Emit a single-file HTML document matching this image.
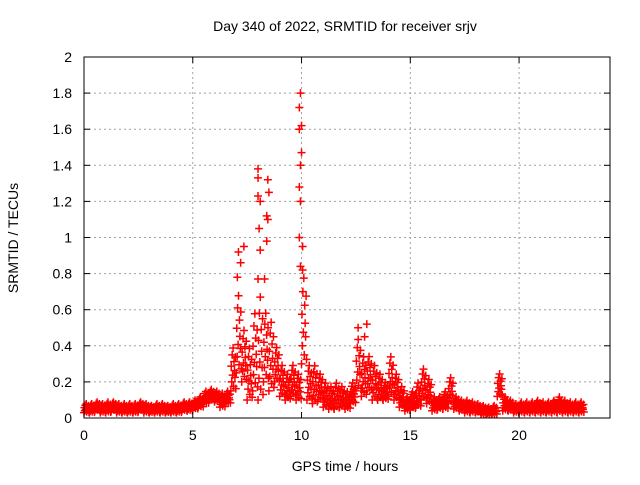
<!DOCTYPE html>
<html><head><meta charset="utf-8"><style>
body{margin:0;background:#fff}
svg text{font-family:"Liberation Sans",sans-serif;font-size:14px;fill:#000}
</style></head><body>
<svg id="chart" width="640" height="480">
<text x="345" y="31" text-anchor="middle">Day 340 of 2022, SRMTID for receiver srjv</text>
<text x="345" y="471" text-anchor="middle">GPS time / hours</text>
<text transform="translate(18,238) rotate(-90)" text-anchor="middle">SRMTID / TECUs</text>
<g id="grid"></g><g id="marks"></g><g id="axes"></g>
</svg>
<script>
const xTicks=[0,5,10,15,20];
const yTicks=[0,0.2,0.4,0.6,0.8,1,1.2,1.4,1.6,1.8,2];
const yTickLabels=["0","0.2","0.4","0.6","0.8","1","1.2","1.4","1.6","1.8","2"];
const stepHours=0.25;
const lowValues=[0.03,0.03,0.04,0.03,0.03,0.04,0.03,0.03,0.03,0.03,0.04,0.03,0.03,0.03,0.03,0.03,0.03,0.03,0.04,0.04,0.05,0.06,0.08,0.1,0.09,0.06,0.08,0.15,0.25,0.2,0.1,0.15,0.1,0.2,0.15,0.2,0.12,0.1,0.12,0.1,0.3,0.1,0.08,0.1,0.06,0.05,0.05,0.06,0.05,0.08,0.15,0.12,0.15,0.1,0.1,0.1,0.12,0.1,0.06,0.04,0.05,0.06,0.1,0.08,0.04,0.05,0.05,0.08,0.05,0.04,0.03,0.03,0.03,0.02,0.02,0.02,0.12,0.04,0.04,0.03,0.03,0.03,0.03,0.03,0.03,0.03,0.03,0.03,0.03,0.03,0.03,0.03];
const highValues=[0.08,0.08,0.09,0.08,0.09,0.09,0.08,0.08,0.08,0.08,0.09,0.08,0.07,0.08,0.08,0.07,0.08,0.08,0.09,0.09,0.1,0.12,0.15,0.16,0.15,0.14,0.15,0.4,0.7,0.5,0.4,0.6,0.7,0.6,0.55,0.4,0.3,0.25,0.3,0.25,0.8,0.3,0.3,0.25,0.2,0.18,0.2,0.18,0.15,0.2,0.45,0.35,0.35,0.3,0.25,0.2,0.35,0.25,0.18,0.12,0.15,0.2,0.28,0.22,0.12,0.12,0.15,0.23,0.12,0.1,0.1,0.09,0.08,0.07,0.06,0.07,0.25,0.12,0.1,0.08,0.09,0.09,0.09,0.1,0.09,0.09,0.1,0.12,0.1,0.09,0.09,0.09];
const peakTimes=[7.1,7.2,7.35,7.05,8.0,8.0,8.1,8.0,8.05,8.1,8.45,8.5,8.4,8.45,8.4,9.95,9.9,10.0,9.9,10.0,9.95,9.9,9.95,9.9,10.05,9.95,10.05,8.0,8.3,12.6,13.0,12.9];
const peakValues=[0.92,0.86,0.95,0.78,1.38,1.33,1.2,1.23,1.05,0.93,1.32,1.25,1.12,1.1,0.98,1.8,1.72,1.62,1.6,1.47,1.4,1.28,1.2,1.0,0.95,0.84,0.82,0.77,0.77,0.5,0.52,0.45];
const L=84,R=610,T=57,B=418,XMAX=24.18,YMAX=2;
const xs=v=>L+v/XMAX*(R-L), ys=v=>B-v/YMAX*(B-T);
const NS="http://www.w3.org/2000/svg";
function mk(tag,attrs,parent){const e=document.createElementNS(NS,tag);for(const k in attrs)e.setAttribute(k,attrs[k]);parent.appendChild(e);return e;}
const grid=document.getElementById('grid'),axes=document.getElementById('axes'),marks=document.getElementById('marks');
xTicks.forEach((t,i)=>{const x=xs(t);
 if(t>0){const g=mk('line',{x1:x,x2:x,y1:T,y2:B,stroke:'#a0a0a0','stroke-dasharray':'2,3'},grid);}
 mk('line',{x1:x,x2:x,y1:B,y2:B-6,stroke:'#000'},axes);mk('line',{x1:x,x2:x,y1:T,y2:T+6,stroke:'#000'},axes);
 const tx=mk('text',{x:x,y:B+22,'text-anchor':'middle'},axes);tx.textContent=t;
 });
yTicks.forEach((t,i)=>{const y=ys(t);
 if(t>0&&t<YMAX){const g=mk('line',{x1:L,x2:R,y1:y,y2:y,stroke:'#a0a0a0','stroke-dasharray':'2,3'},grid);}
 mk('line',{x1:L,x2:L+6,y1:y,y2:y,stroke:'#000'},axes);mk('line',{x1:R,x2:R-6,y1:y,y2:y,stroke:'#000'},axes);
 const tx=mk('text',{x:L-12,y:y+5,'text-anchor':'end'},axes);tx.textContent=yTickLabels[i];
 });
const fr=mk('rect',{x:L,y:T,width:R-L,height:B-T,fill:'none',stroke:'#000'},axes);

function plus(t,v){const x=xs(t),y=ys(v);
 const p=mk('path',{d:`M${x-4},${y}h8M${x},${y-4}v8`,stroke:'#f00','stroke-width':1.5,fill:'none'},marks);
 }
const fracs=[0,0.55,0.2,0.8,0.35,0.95,0.1,0.65,0.45,0.3,0.75,0.05];
lowValues.forEach((lo,i)=>{const hi=highValues[i];
 for(let k=0;k<fracs.length;k++){const t=i*stepHours+(k/fracs.length)*stepHours;plus(t,lo+(hi-lo)*fracs[k]);}});
peakTimes.forEach((t,i)=>plus(t,peakValues[i]));
</script>
</body></html>
